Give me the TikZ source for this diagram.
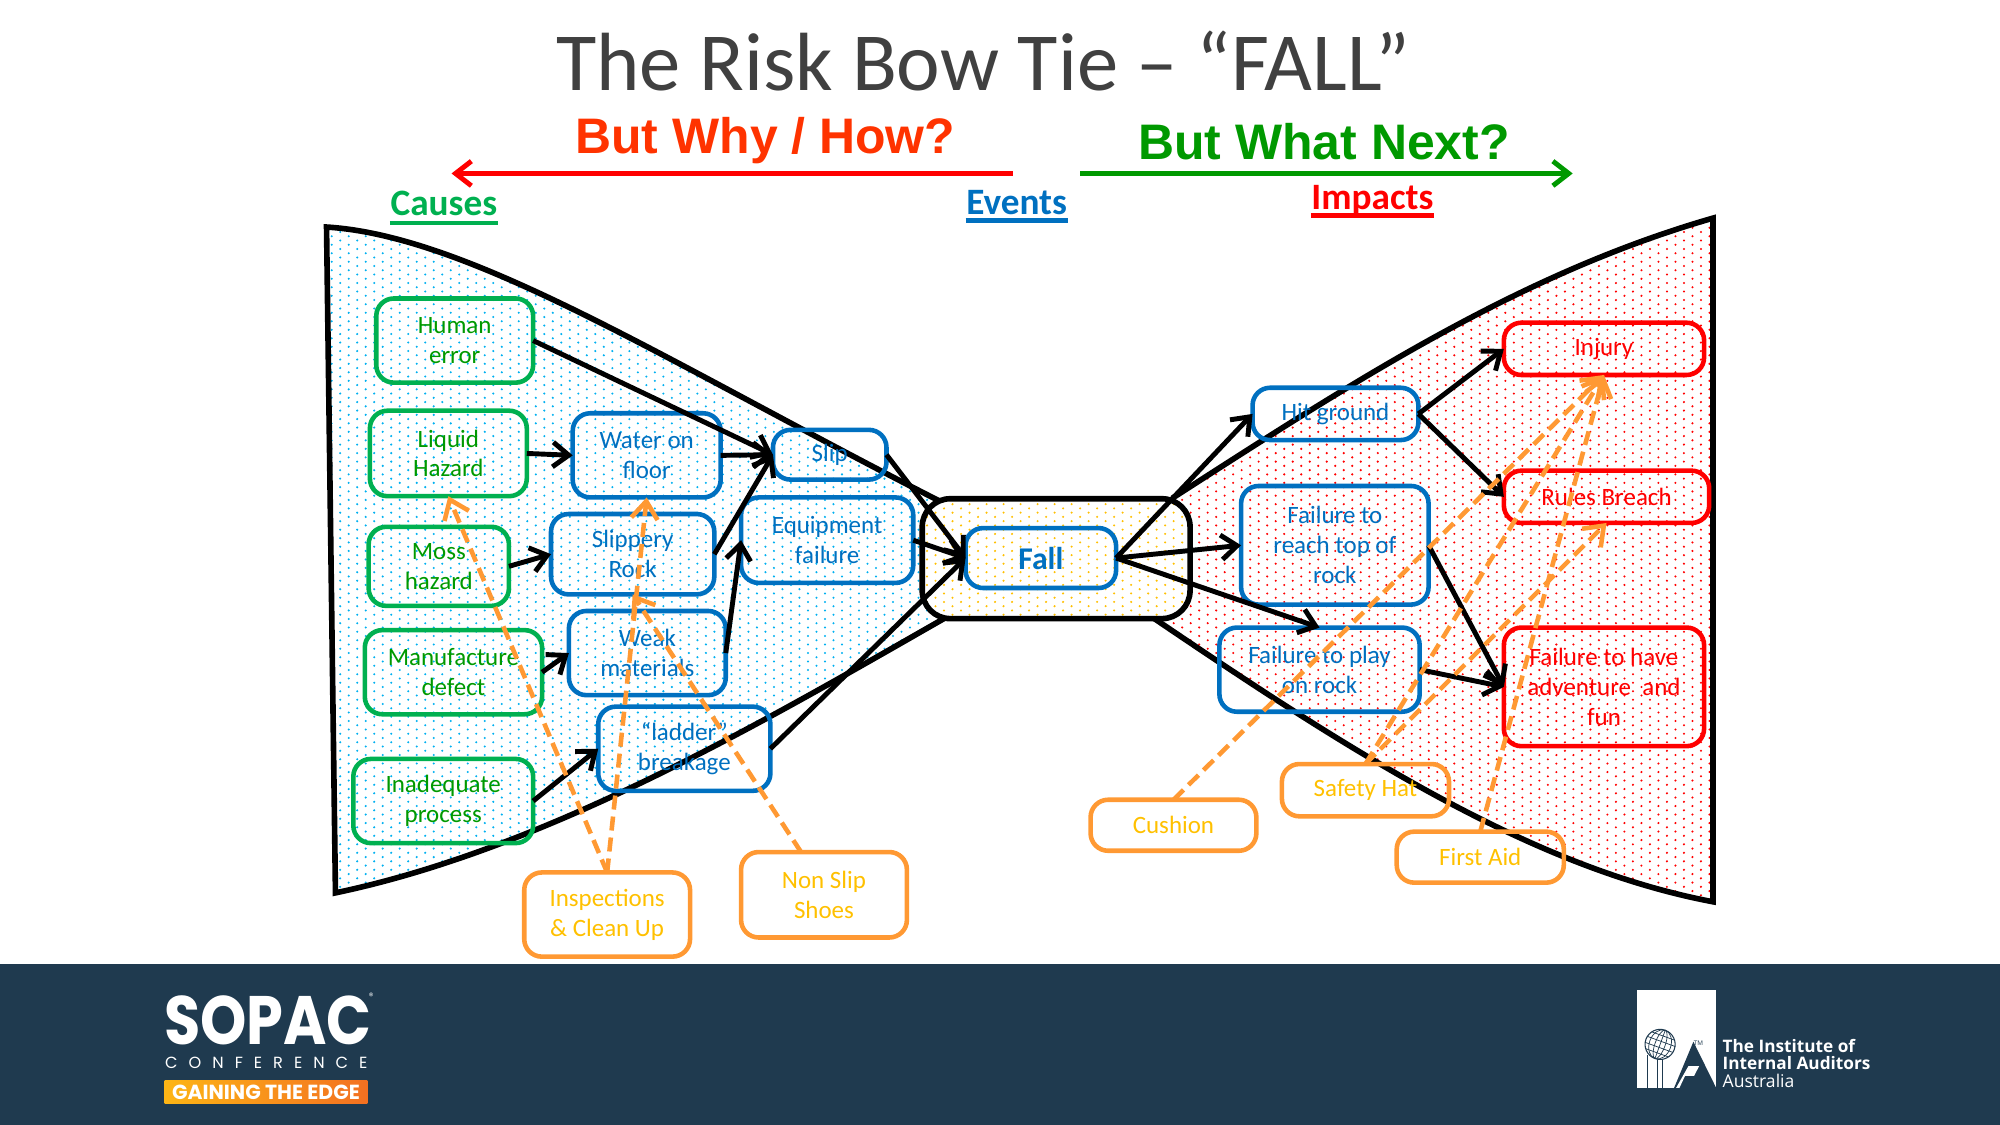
\documentclass[tikz,border=0pt]{standalone}
\usepackage{fontspec}
\usepackage{xcolor}
\usetikzlibrary{arrows.meta,patterns,calc}
\setmainfont{Carlito}
\newfontfamily\headfont{Liberation Sans}
\newfontfamily\logofont{Poppins}
\newfontfamily\iiafont{Open Sans}
\newfontfamily\spacedfont[LetterSpace=68]{Poppins}
\definecolor{causegreen}{RGB}{0,176,80}
\definecolor{causetext}{RGB}{0,153,0}
\definecolor{eventblue}{RGB}{0,112,192}
\definecolor{impactred}{RGB}{255,0,0}
\definecolor{ctrlorange}{RGB}{255,153,51}
\definecolor{ctrltext}{RGB}{255,192,0}
\definecolor{dotcyan}{RGB}{0,176,240}
\definecolor{footnavy}{RGB}{31,58,79}
\definecolor{titlegray}{RGB}{64,64,64}
\definecolor{whyred}{RGB}{255,51,0}
\definecolor{edgeleft}{RGB}{253,181,21}
\definecolor{edgeright}{RGB}{243,112,33}
\pgfdeclarepatternformonly{tiedots}{\pgfqpoint{-.6pt}{-.6pt}}{\pgfqpoint{4.24pt}{1.82pt}}{\pgfqpoint{4.84pt}{2.42pt}}{
  \pgfpathcircle{\pgfqpoint{0pt}{0pt}}{.33pt}
  \pgfpathcircle{\pgfqpoint{2.42pt}{1.21pt}}{.33pt}
  \pgfusepath{fill}
}
\def\pxu{0.012755cm}
\tikzset{
  size/.style 2 args={minimum width=#1*\pxu, minimum height=#2*\pxu},
  tiebox/.style={rounded corners=5pt, line width=1.3pt, inner sep=0pt, outer sep=0pt,
    align=center, font=\fontsize{7.1}{8.5}\selectfont},
  causebox/.style={tiebox, draw=causegreen, text=causetext},
  eventbox/.style={tiebox, draw=eventblue, text=eventblue},
  impactbox/.style={tiebox, draw=impactred, text=impactred},
  ctrlbox/.style={tiebox, draw=ctrlorange, text=ctrltext},
  link/.style={-{Straight Barb[length=4.5pt,width=7pt,line width=1.4pt]}, line width=1.4pt, black},
  ctrl/.style={-{Straight Barb[length=5pt,width=7.5pt,line width=1.3pt]}, line width=1.3pt,
    ctrlorange, dash pattern=on 4pt off 2pt},
  heading/.style={font=\fontsize{10.6}{12}\selectfont\bfseries, inner sep=0pt, anchor=base},
  bigask/.style={font=\fontsize{14.2}{16}\headfont\bfseries, inner sep=0pt},
  wing/.style={line width=1.6pt, pattern=tiedots}
}
\begin{document}
\begin{tikzpicture}[x=\pxu, y=-\pxu, >=Stealth]
    \useasboundingbox (0,0) rectangle (1568,882);
    % Footer band
    \fill[footnavy] (0,756) rectangle (1568,882);

    % Bow tie wings
    \draw[wing, pattern color=dotcyan]
        (256,178) .. controls (370,185) and (525,285) .. (735,392)
        -- (740,485) .. controls (600,565) and (430,665) .. (263,700) -- cycle;
    \draw[wing, pattern color=impactred]
        (1343,171) .. controls (1190,215) and (1060,300) .. (920,390)
        -- (905,485) .. controls (1060,590) and (1200,680) .. (1343,707) -- cycle;
    % Centre box
    \node[draw, line width=1.6pt, rounded corners=8pt, preaction={fill=white}, pattern=tiedots, pattern color=ctrltext, size={210}{94}, outer sep=0pt] (centre) at (828,438) {};

    % Titles
    \node[font=\fontsize{23.5}{27}\selectfont, text=titlegray, inner sep=0pt] (title) at (771,48) {The Risk Bow Tie -- “FALL”};
    \node[bigask, text=whyred] (why) at (600,110) {But Why / How?};
    \node[bigask, text=causetext] (next) at (1038,111) {But What Next?};
    \coordinate (whystart) at (794,136);
    \coordinate (whyend) at (354,136);
    \coordinate (nextstart) at (847,136);
    \coordinate (nextend) at (1233,136);
    \draw[link, red] (whystart) -- (whyend);
    \draw[link, causetext] (nextstart) -- (nextend);
    \node[heading, text=causegreen] (causes) at (348,169) {Causes};
    \node[heading, text=eventblue] (events) at (797,168.5) {Events};
    \node[heading, text=impactred] (impacts) at (1076,164.5) {Impacts};
    \draw[causegreen, line width=1.3pt] ($(causes.base west)+(0,6)$) -- ($(causes.base east)+(0,6)$);
    \draw[eventblue, line width=1.3pt] ($(events.base west)+(0,4.5)$) -- ($(events.base east)+(0,4.5)$);
    \draw[impactred, line width=1.3pt] ($(impacts.base west)+(0,4.5)$) -- ($(impacts.base east)+(0,4.5)$);

    % Causes
    \node[causebox, size={123}{66}] (human) at (356.5,267) {Human\\error};
    \node[causebox, size={123}{67}] (liquid) at (351.5,355.5) {Liquid\\Hazard};
    \node[causebox, size={110}{62}] (moss) at (344,444) {Moss\\hazard};
    \node[causebox, size={139}{66}] (manuf) at (355.5,527) {Manufacture\\defect};
    \node[causebox, size={141}{66}] (inadeq) at (347.5,628) {Inadequate\\process};

    % Events
    \node[eventbox, size={116}{66}] (water) at (507,357) {Water on\\floor};
    \node[eventbox, size={128}{63}] (rock) at (496,434.5) {Slippery\\Rock};
    \node[eventbox, size={123}{66}] (weak) at (507.5,512) {Weak\\materials};
    \node[eventbox, size={135}{66}] (ladder) at (536.5,587) {“ladder”\\breakage};
    \node[eventbox, size={89}{39}] (slip) at (650.5,356.5) {Slip};
    \node[eventbox, size={135}{67}] (equip) at (648.5,423.5) {Equipment\\failure};
    \node[eventbox, size={118}{47}, font=\fontsize{9}{11}\selectfont\bfseries] (fall) at (816,437.5) {Fall};
    \node[eventbox, size={130}{41}] (hit) at (1047,324.5) {Hit ground};
    \node[eventbox, size={147}{93}] (reach) at (1046.5,427.5) {Failure to\\reach top of\\rock};
    \node[eventbox, size={157}{66}] (play) at (1034.5,525) {Failure to play\\on rock};

    % Impacts
    \node[impactbox, size={157}{41}] (injury) at (1257.5,273.5) {Injury};
    \node[impactbox, size={161}{41}] (rules) at (1259.5,389.5) {Rules Breach};
    \node[impactbox, size={157}{93}] (adventure) at (1257.5,538.5) {Failure to have\\adventure\ \ and\\fun};

    % Controls
    \node[ctrlbox, size={130}{66}] (inspect) at (476,717) {Inspections\\\& Clean Up};
    \node[ctrlbox, size={130}{67}] (shoes) at (646,701.5) {Non Slip\\Shoes};
    \node[ctrlbox, size={130}{40}] (cushion) at (920,647) {Cushion};
    \node[ctrlbox, size={131}{41}] (hat) at (1070.5,619.5) {Safety Hat};
    \node[ctrlbox, size={131}{40}] (aid) at (1160.5,672) {First Aid};

    % Causal links
    \draw[link] (human.east) -- (slip.west);
    \draw[link] (liquid.east) -- (water.west);
    \draw[link] (moss.east) -- (rock.west);
    \draw[link] (manuf.east) -- (weak.west);
    \draw[link] (inadeq.east) -- (ladder.west);
    \draw[link] (water.east) -- (slip.west);
    \draw[link] (rock.east) -- (slip.west);
    \draw[link] (weak.east) -- (equip.west);
    \draw[link] (slip.east) -- (fall.west);
    \draw[link] (equip.east) -- (fall.west);
    \draw[link] (ladder.east) -- (fall.west);
    \draw[link] (fall.east) -- (hit.west);
    \draw[link] (fall.east) -- (reach.west);
    \draw[link] (fall.east) -- (play.north);
    \draw[link] (hit.east) -- (injury.west);
    \draw[link] (hit.east) -- (rules.west);
    \draw[link] (reach.east) -- (adventure.west);
    \draw[link] (play.east) -- (adventure.west);

    % Control links
    \draw[ctrl] (inspect.north) -- (liquid.south);
    \draw[ctrl] (inspect.north) -- (water.south);
    \draw[ctrl] ($(shoes.north)+(-18,0)$) -- (rock.south);
    \draw[ctrl] (cushion.north) -- (injury.south);
    \draw[ctrl] (hat.north) -- (injury.south);
    \draw[ctrl] (hat.north) -- (rules.south);
    \draw[ctrl] (aid.north) -- (injury.south);

    % Conference logo
    \node[text=white, font=\fontsize{19.5}{20}\logofont\bfseries, inner sep=0pt] (sopac) at (210,800) {\scalebox{.86}[1]{SOPAC}};
    \node[text=white, font=\fontsize{2.6}{3}\logofont, inner sep=0pt] (regmark) at (291,781) {®};
    \node[text=white, font=\fontsize{4.6}{5}\spacedfont, inner sep=0pt, anchor=west] (confer) at (129,833) {CONFERENCE};
    \node[left color=edgeleft, right color=edgeright, text=white, font=\fontsize{5.8}{6}\logofont\bfseries, inner sep=0pt, size={159}{18}] (edgebar) at (208.5,856) {GAINING THE EDGE};

    % Institute logo
    \fill[white] (1283.7,776.2) rectangle (1345.4,852.8);
    \fill[footnavy] (1327.6,816.7) -- (1345.4,852.8) -- (1312.5,852.8) -- cycle;
    \fill[white] (1314.1,852.8) -- (1323.7,835.8) -- (1332.1,835.8) -- (1328.2,843.4) -- (1321.1,843.4) -- (1316.7,852.8) -- cycle;
    \draw[footnavy, line width=.35pt] (1291.6,827) -- (1291.6,852.8) (1299.4,829) -- (1299.4,852.8) (1303.3,829) -- (1303.3,852.8);
    \begin{scope}[shift={(1301.5,818.8)}, rotate=-20]
        \draw[footnavy, line width=.3pt, fill=white] (0,0) circle [radius=11.8];
        \foreach \rx in {4,8.5}
            \draw[footnavy, line width=.2pt] (0,0) circle [x radius=\rx, y radius=11.8];
        \foreach \py in {-7,-2.5,2.5,7}
            \draw[footnavy, line width=.2pt] ({-sqrt(139-\py*\py)},\py) -- ({sqrt(139-\py*\py)},\py);
        \draw[footnavy, line width=.2pt] (0,-11.8) -- (0,11.8);
    \end{scope}
    \node[text=footnavy, font=\fontsize{1.8}{2}\iiafont, inner sep=0pt] (tmark) at (1331.6,818) {TM};
    \node[text=white, font=\fontsize{4.9}{4.85}\iiafont\bfseries, inner sep=0pt, align=left, anchor=north west] (iianame) at (1350,814) {The Institute of\\Internal Auditors};
    \node[text=white, font=\fontsize{5}{5}\iiafont, inner sep=0pt, anchor=base west] (iiaplace) at (1350,852.5) {Australia};
\end{tikzpicture}
\end{document}
